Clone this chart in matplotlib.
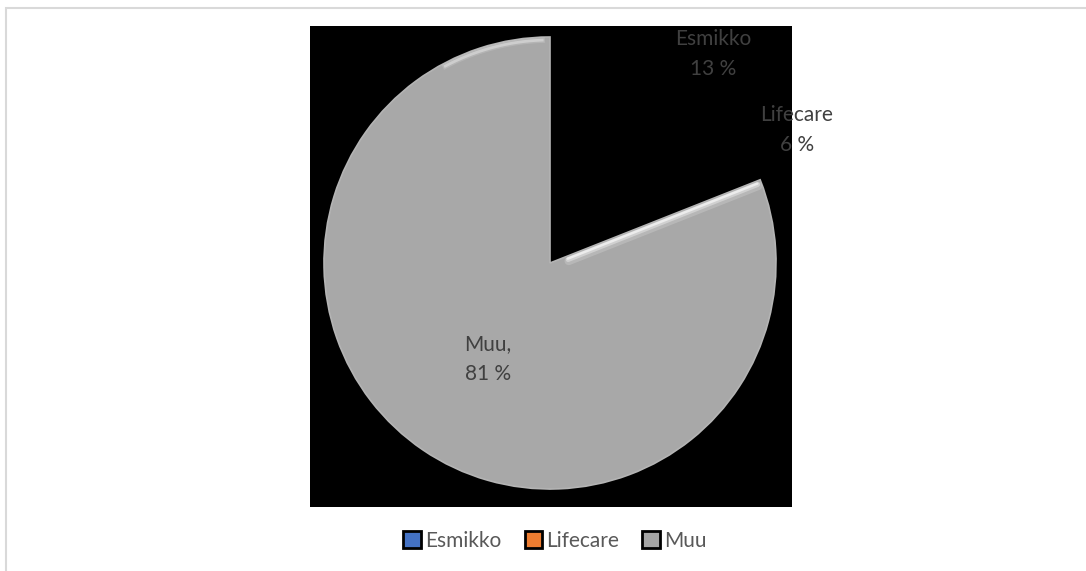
import matplotlib
matplotlib.use('Agg')
import matplotlib.pyplot as plt
import numpy as np
from matplotlib.patches import Patch, Rectangle

plt.rcParams['font.family'] = ['Lato', 'DejaVu Sans']

# data
labels = ['Esmikko', 'Lifecare', 'Muu']
shares = [13, 6, 81]
legend_colors = ['#4472c4', '#ed7d31', '#a5a5a5']
slice_colors = ['black', 'black', '#a8a8a8']   # the two small slices vanish into the black plot area

W, H = 1086, 571
fig = plt.figure(figsize=(W / 100, H / 100), dpi=100)

# outer frame (only top and left edges are visible)
fig.patches.append(Rectangle((6 / W, -0.2), 1.2, 1.2 - 8 / H, transform=fig.transFigure,
                             fill=False, edgecolor='#d9d9d9', linewidth=1.5))

# black square plot area, data units = pixels (y up)
ax = fig.add_axes([310 / W, 1 - 507 / H, 482 / W, 481 / H])
ax.set_facecolor('black')

cx, cy, r = 550, H - 263, 226
wedges, _ = ax.pie(shares, colors=slice_colors, startangle=90, counterclock=False,
                   center=(cx, cy), radius=r, frame=True,
                   wedgeprops=dict(linewidth=0))
wedges[2].set_edgecolor('#b4b4b4')
wedges[2].set_linewidth(1.2)

# bevel-like highlight just inside the right cut edge and near the top of the slice
ang = np.deg2rad(90 - 360 * sum(shares[:2]) / sum(shares))
nx, ny = np.sin(ang), -np.cos(ang)
for off, lw, a in [(5, 6, 0.18), (3.5, 3.5, 0.35), (2.5, 1.8, 0.6)]:
    ax.plot([cx + 0.08 * r * np.cos(ang) + off * nx, cx + (r - 4) * np.cos(ang) + off * nx],
            [cy + 0.08 * r * np.sin(ang) + off * ny, cy + (r - 4) * np.sin(ang) + off * ny],
            color='white', lw=lw, alpha=a, solid_capstyle='round')
t = np.linspace(np.deg2rad(92), np.deg2rad(118), 40)
for lw, a in [(4, 0.15), (2, 0.35)]:
    ax.plot(cx + (r - 3) * np.cos(t), cy + (r - 3) * np.sin(t), color='white', lw=lw, alpha=a)

ax.set_xlim(310, 792)
ax.set_ylim(H - 507, H - 26)
ax.set_aspect('auto')
ax.set_xticks([]); ax.set_yticks([])
for s in ax.spines.values():
    s.set_visible(False)

# data labels
lab_pos = [(713, H - 54), (797, H - 130), (488, H - 359)]
lab_txt = [f'{labels[0]}\n{shares[0]} %', f'{labels[1]}\n{shares[1]} %', f'{labels[2]},\n{shares[2]} %']
for (x, y), t in zip(lab_pos, lab_txt):
    ax.text(x, y, t, ha='center', va='center', fontsize=15, color='#404040',
            linespacing=1.65, clip_on=False)

handles = [Patch(facecolor=c, edgecolor='black', linewidth=2) for c in legend_colors]
fig.legend(handles, labels, loc='center', bbox_to_anchor=(555 / W, 1 - 541 / H), ncol=3,
           frameon=False, fontsize=15, labelcolor='#595959', handlelength=0.85, handleheight=0.85,
           handletextpad=0.2, columnspacing=1.1)

fig.savefig('out.png', dpi=100)
